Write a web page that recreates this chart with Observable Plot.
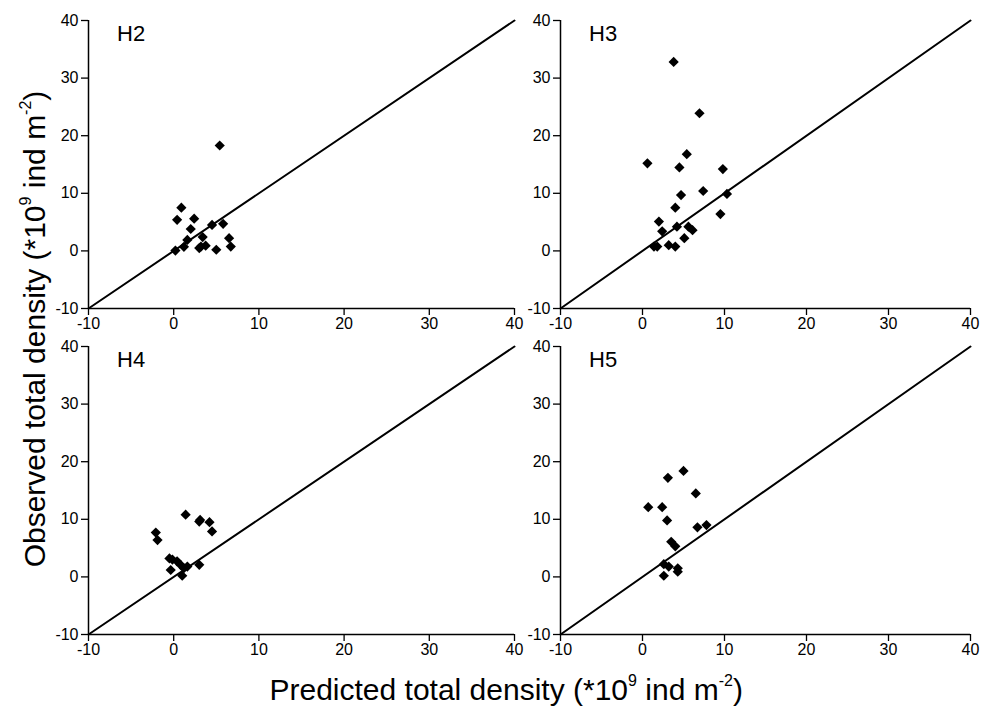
<!DOCTYPE html>
<html>
<head>
<meta charset="utf-8">
<script src="https://cdn.jsdelivr.net/npm/d3@7"></script>
<script src="https://cdn.jsdelivr.net/npm/@observablehq/plot@0.6"></script>
<style>
  body { margin: 0; background: #fff; font-family: Arial, "Liberation Sans", sans-serif; }
  #root { position: relative; width: 995px; height: 708px; overflow: hidden; }
  .panel { position: absolute; }
  .panel text { font-size: 16px; fill: #000; }
  .title { position: absolute; font-size: 30px; line-height: 1; color: #000; white-space: nowrap; }
  .title sup { font-size: 16px; vertical-align: 0; position: relative; top: -14px; }
  .lab { position: absolute; font-size: 22px; line-height: 1; color: #000; }
</style>
</head>
<body>
<div id="root"></div>
<script>
const axisTicks = [-10, 0, 10, 20, 30, 40];
const diag = [-10, 40];

const h2X = [0.2, 0.4, 0.9, 1.2, 1.6, 2.0, 2.4, 3.0, 3.2, 3.4, 3.75, 4.5, 5.0, 5.4, 5.8, 6.5, 6.7];
const h2Y = [0.05, 5.4, 7.5, 0.7, 1.9, 3.8, 5.6, 0.5, 0.75, 2.4, 0.9, 4.5, 0.2, 18.3, 4.7, 2.2, 0.75];

const h3X = [0.6, 3.8, 6.95, 5.4, 4.5, 9.8, 7.4, 4.7, 10.3, 4.0, 9.5, 2.0, 2.4, 4.2, 5.6, 6.1, 5.1, 1.4, 1.8, 3.2, 4.0];
const h3Y = [15.2, 32.8, 23.9, 16.8, 14.5, 14.2, 10.4, 9.7, 9.9, 7.5, 6.4, 5.1, 3.4, 4.2, 4.2, 3.6, 2.2, 0.75, 0.75, 1.0, 0.75];

const h4X = [1.4, 3.0, 3.1, 4.2, 4.5, -2.1, -1.9, -0.5, -0.15, 0.4, 0.8, -0.35, 1.2, 1.6, 3.0, 1.0];
const h4Y = [10.8, 9.6, 9.9, 9.5, 7.9, 7.7, 6.4, 3.2, 3.0, 2.7, 2.1, 1.2, 1.5, 1.8, 2.1, 0.2];

const h5X = [5.0, 3.1, 6.5, 0.7, 2.4, 3.0, 6.7, 7.8, 3.5, 4.0, 2.6, 3.2, 4.3, 4.3, 2.6];
const h5Y = [18.4, 17.2, 14.5, 12.1, 12.1, 9.8, 8.6, 9.0, 6.1, 5.3, 2.2, 1.8, 1.5, 0.9, 0.2];

const panels = [
  {name: "H2", xs: h2X, ys: h2Y, left: 0,   top: 0,   width: 530, mL: 88, mR: 16},
  {name: "H3", xs: h3X, ys: h3Y, left: 480, top: 0,   width: 510, mL: 80, mR: 20},
  {name: "H4", xs: h4X, ys: h4Y, left: 0,   top: 326, width: 530, mL: 88, mR: 16},
  {name: "H5", xs: h5X, ys: h5Y, left: 480, top: 326, width: 510, mL: 80, mR: 20}
];

const root = document.getElementById("root");
const fmt = d => String(d);

for (const p of panels) {
  const pts = p.xs.map((x, i) => ({x, y: p.ys[i]}));
  const chart = Plot.plot({
    width: p.width,
    height: 340,
    marginLeft: p.mL,
    marginRight: p.mR,
    marginTop: 20,
    marginBottom: 32,
    style: {fontFamily: "Arial, 'Liberation Sans', sans-serif", fontSize: "16px", color: "#000", background: "transparent", overflow: "visible"},
    x: {domain: [-10, 40]},
    y: {domain: [-10, 40]},
    marks: [
      Plot.axisX({ticks: axisTicks, tickFormat: fmt, tickSize: 7, tickPadding: 2, label: null, fontSize: 16, strokeWidth: 1.3}),
      Plot.axisY({ticks: axisTicks, tickFormat: fmt, tickSize: 7, tickPadding: 3, label: null, fontSize: 16, strokeWidth: 1.3}),
      Plot.ruleX([-10], {stroke: "#000", strokeWidth: 1.5}),
      Plot.ruleY([-10], {stroke: "#000", strokeWidth: 1.5}),
      Plot.line(diag, {x: d => d, y: d => d, stroke: "#000", strokeWidth: 2}),
      Plot.dot(pts, {x: "x", y: "y", symbol: "diamond2", r: 4.6, fill: "#000", stroke: "none"})
    ]
  });
  chart.classList.add("panel");
  chart.style.left = p.left + "px";
  chart.style.top = p.top + "px";
  root.appendChild(chart);

  const lab = document.createElement("div");
  lab.className = "lab";
  lab.textContent = p.name;
  lab.style.left = (p.left + p.mL + 29) + "px";
  lab.style.top = (p.top + 23) + "px";
  root.appendChild(lab);
}

const xt = document.createElement("div");
xt.className = "title";
xt.innerHTML = "Predicted total density (*10<sup>9</sup> ind m<sup>-2</sup>)";
root.appendChild(xt);
xt.style.left = (506 - xt.offsetWidth / 2) + "px";
xt.style.top = "675px";

const yt = document.createElement("div");
yt.className = "title";
yt.innerHTML = "Observed total density (*10<sup>9</sup> ind m<sup>-2</sup>)";
root.appendChild(yt);
const w = yt.offsetWidth, h = yt.offsetHeight;
yt.style.left = (35 - w / 2) + "px";
yt.style.top = (329 - h / 2) + "px";
yt.style.transform = "rotate(-90deg)";
</script>
</body>
</html>
